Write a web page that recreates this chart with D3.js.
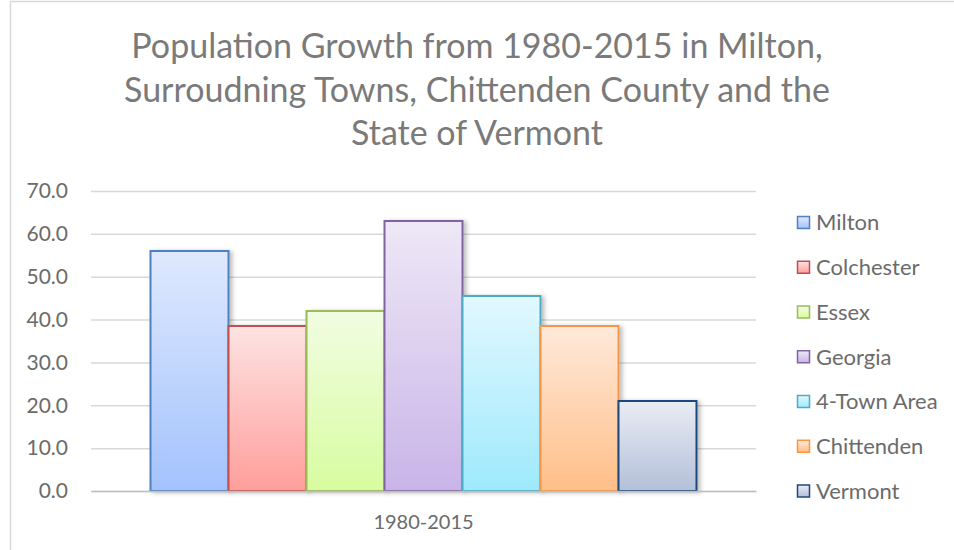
<html>

<head>
  <meta charset="utf-8">
  <title>Population Growth 1980-2015</title>
  <script src="https://cdn.jsdelivr.net/npm/d3@7"></script>
  <style>
    body { margin: 0; background: #fff; }
    text { font-family: Lato, "Open Sans", sans-serif; }
  </style>
</head>

<body>
  <script>
    // data
    const categories = ["1980-2015"];
    const towns = ["Milton", "Colchester", "Essex", "Georgia", "4-Town Area", "Chittenden", "Vermont"];
    const growth = [56.0, 38.5, 42.0, 63.0, 45.5, 38.5, 21.0];
    const yTicks = [0, 10, 20, 30, 40, 50, 60, 70];
    const titleLines = ["Population Growth from 1980-2015 in Milton,",
      "Surroudning Towns, Chittenden County and the",
      "State of Vermont"];

    // kolorer: kant, top, bund
    const strokes = ["#4f81bd", "#c0504d", "#9bbb59", "#8064a2", "#4bacc6", "#f79646", "#1f497d"];
    const topCol = ["#dfe9fd", "#fde3e3", "#f1fde2", "#eee8f6", "#e2f8fe", "#ffe9da", "#e9ecf4"];
    const botCol = ["#a3c2fd", "#ff9e9b", "#d8fca0", "#c9b4e8", "#9ee9fd", "#ffbf88", "#b3c0d9"];

    const w = 954, h = 550;
    const plot = { left: 91, right: 756, top: 191, bottom: 491 };

    const svg = d3.select("body").append("svg")
      .attr("width", w)
      .attr("height", h);

    const defs = svg.append("defs");
    towns.forEach(function(t, i) {
      const g = defs.append("linearGradient")
        .attr("id", "grad" + i)
        .attr("x1", 0).attr("y1", 0).attr("x2", 0).attr("y2", 1);
      g.append("stop").attr("offset", "0%").attr("stop-color", topCol[i]);
      g.append("stop").attr("offset", "100%").attr("stop-color", botCol[i]);
    });
    defs.append("filter").attr("id", "shadow")
      .attr("x", "-10%").attr("y", "-10%").attr("width", "130%").attr("height", "130%")
      .append("feDropShadow")
      .attr("dx", 3).attr("dy", 1).attr("stdDeviation", 2)
      .attr("flood-color", "#000").attr("flood-opacity", 0.25);

    // ramme
    svg.append("path")
      .attr("d", "M10.5," + h + "V1.5H" + w)
      .attr("fill", "none")
      .attr("stroke", "#d9d9d9")
      .attr("stroke-width", 1.5);

    // titel
    svg.append("g").selectAll("text")
      .data(titleLines)
      .enter()
      .append("text")
      .attr("x", 477)
      .attr("y", function(d, i) { return 58 + i * 43.5; })
      .attr("text-anchor", "middle")
      .attr("font-size", "34px")
      .attr("fill", "#7a7a7a")
      .text(function(d) { return d; });

    // skalaer
    const yScale = d3.scaleLinear()
      .domain([0, 70])
      .range([plot.bottom, plot.top]);

    const x0 = d3.scaleBand()
      .domain(categories)
      .range([plot.left, plot.right])
      .paddingInner(0)
      .paddingOuter(0.109);

    const x1 = d3.scaleBand()
      .domain(towns)
      .range([0, x0.bandwidth()]);

    // gitterlinjer
    svg.append("g")
      .attr("transform", "translate(" + plot.left + ",0)")
      .call(d3.axisLeft(yScale)
        .tickValues(yTicks)
        .tickSize(-(plot.right - plot.left))
        .tickFormat(""))
      .call(function(g) { g.select(".domain").remove(); })
      .call(function(g) {
        g.selectAll(".tick line")
          .attr("stroke", "#d9d9d9")
          .attr("stroke-width", 1.5);
      });

    // y-akse labels
    svg.append("g")
      .attr("transform", "translate(" + 68 + ",0)")
      .call(d3.axisLeft(yScale)
        .tickValues(yTicks)
        .tickSize(0)
        .tickPadding(0)
        .tickFormat(d3.format(".1f")))
      .call(function(g) { g.select(".domain").remove(); })
      .call(function(g) {
        g.selectAll(".tick text")
          .attr("font-family", "Lato, 'Open Sans', sans-serif")
          .attr("font-size", "21px")
          .attr("fill", "#6b6b6b");
      });

    // bars
    svg.append("g")
      .selectAll("rect")
      .data(growth)
      .enter()
      .append("rect")
      .attr("x", function(d, i) { return x0(categories[0]) + x1(towns[i]); })
      .attr("y", function(d) { return yScale(d); })
      .attr("width", x1.bandwidth())
      .attr("height", function(d) { return yScale(0) - yScale(d); })
      .attr("fill", function(d, i) { return "url(#grad" + i + ")"; })
      .attr("stroke", function(d, i) { return strokes[i]; })
      .attr("stroke-width", 2)
      .attr("filter", "url(#shadow)");

    // x-akse
    const xAxis = svg.append("g")
      .attr("transform", "translate(0," + plot.bottom + ")")
      .call(d3.axisBottom(x0).tickSize(0).tickPadding(0));
    xAxis.select(".domain")
      .attr("stroke", "#bfbfbf")
      .attr("stroke-width", 1.5);
    xAxis.selectAll(".tick text")
      .attr("font-family", "Lato, 'Open Sans', sans-serif")
      .attr("font-size", "20px")
      .attr("fill", "#6b6b6b")
      .attr("dy", 0)
      .attr("y", 38);

    // legend
    const legend = svg.append("g")
      .selectAll("g")
      .data(towns)
      .enter()
      .append("g")
      .attr("transform", function(d, i) {
        return "translate(797," + (222.5 + i * 44.75) + ")";
      });

    legend.append("rect")
      .attr("x", 0.5)
      .attr("y", -6)
      .attr("width", 12)
      .attr("height", 12)
      .attr("fill", function(d, i) { return "url(#grad" + i + ")"; })
      .attr("stroke", function(d, i) { return strokes[i]; })
      .attr("stroke-width", 1.5);

    legend.append("text")
      .attr("x", 19)
      .attr("y", 0)
      .attr("dy", "0.36em")
      .attr("font-size", "22px")
      .attr("fill", "#6b6b6b")
      .text(function(d) { return d; });
  </script>
</body>

</html>
